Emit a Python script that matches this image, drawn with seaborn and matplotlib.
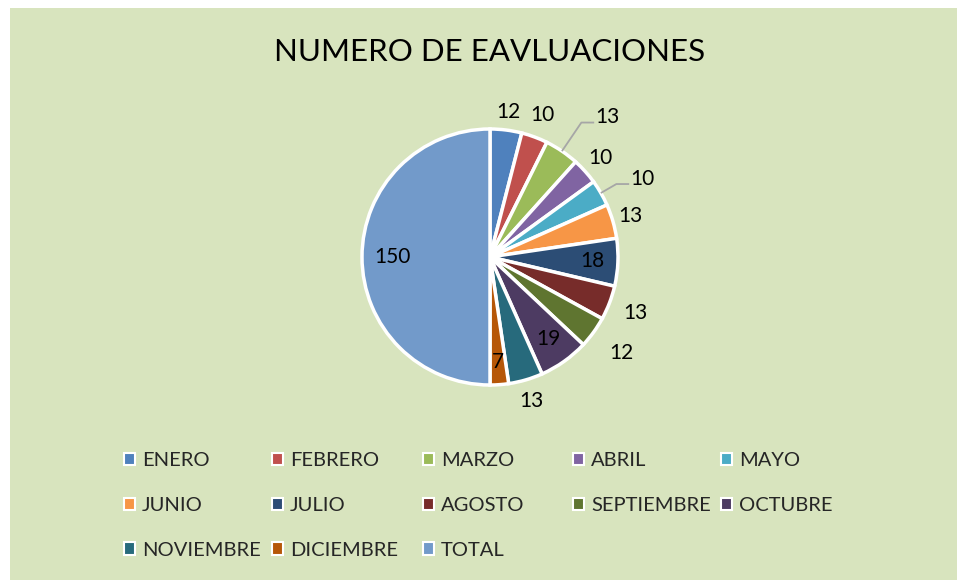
import matplotlib
matplotlib.use("Agg")
import matplotlib.pyplot as plt
import matplotlib.patches as mpatches
import seaborn as sns
import numpy as np

sns.set_theme(style="white")
plt.rcParams['font.family'] = ['Lato', 'DejaVu Sans']

# data
months = ["ENERO", "FEBRERO", "MARZO", "ABRIL", "MAYO", "JUNIO", "JULIO",
          "AGOSTO", "SEPTIEMBRE", "OCTUBRE", "NOVIEMBRE", "DICIEMBRE", "TOTAL"]
evaluations = [12, 10, 13, 10, 10, 13, 18, 13, 12, 19, 13, 7, 150]

colors = ["#4F81BD", "#C0504D", "#9BBB59", "#8064A2", "#4BACC6", "#F79646",
          "#2C4D75", "#772C2A", "#5F7530", "#4D3B62", "#276A7C", "#B65708",
          "#729ACA"]

# label distance per slice (fraction of radius); elbow radius for leader lines
label_dist = [1.14, 1.18, 1.42, 1.16, 1.32, 1.14, 0.80,
              1.22, 1.27, 0.79, 1.17, 0.82, 0.76]
leader_elbow = [None, None, 1.27, None, 1.14, None, None,
                None, None, None, None, None, None]

W, H = 957, 580
fig = plt.figure(figsize=(W / 100, H / 100), dpi=100)
fig.patch.set_facecolor("white")
bg = mpatches.Rectangle((10 / W, 0), 1, 1 - 8 / H, transform=fig.transFigure,
                        facecolor="#D8E4BE", edgecolor="none", zorder=-10)
fig.patches.append(bg)

# pie centre (490, 257) px, radius 128 px
cx, cy, r = 490, 257, 128
half = 200
ax = fig.add_axes([(cx - half) / W, (H - cy - half) / H, 2 * half / W, 2 * half / H])
ax.set_facecolor("none")

wedges, _ = ax.pie(evaluations, colors=colors, startangle=90, counterclock=False,
                   radius=1.0, wedgeprops=dict(edgecolor="white", linewidth=2.5))

lim = half / r
ax.set_xlim(-lim, lim)
ax.set_ylim(-lim, lim)
ax.set_aspect("equal")
ax.axis("off")

for w, val, d, el in zip(wedges, evaluations, label_dist, leader_elbow):
    ang = np.deg2rad((w.theta1 + w.theta2) / 2)
    if el is not None:
        x0, y0 = np.cos(ang), np.sin(ang)
        x1, y1 = el * np.cos(ang), el * np.sin(ang)
        ax.plot([x0, x1, x1 + 0.1], [y0, y1, y1], color="#A6A6A6", lw=1.3,
                solid_capstyle="butt")
        ax.text(x1 + 0.11, y1 + 0.04, str(val), ha="left", va="center",
                fontsize=15, color="black")
    else:
        ax.text(d * np.cos(ang), d * np.sin(ang), str(val), ha="center",
                va="center", fontsize=15, color="black")

fig.text(cx / W, 1 - 52 / H, "NUMERO DE EAVLUACIONES", ha="center", va="center",
         fontsize=22.5, color="black")

# legend, row-major like the original: one legend per column
handles = [mpatches.Patch(facecolor=c, edgecolor="white", linewidth=1.5) for c in colors]
col_x = [124, 272, 423, 573, 721]
for c, x in enumerate(col_x):
    idx = list(range(c, len(months), 5))
    fig.legend([handles[i] for i in idx], [months[i] for i in idx],
               loc="upper left", bbox_to_anchor=(x / W, 1 - 452 / H),
               frameon=False, fontsize=14.5, handlelength=0.55, handleheight=0.55,
               handletextpad=0.35, labelspacing=1.38, borderaxespad=0,
               borderpad=0)

fig.savefig("out.png", dpi=100)
